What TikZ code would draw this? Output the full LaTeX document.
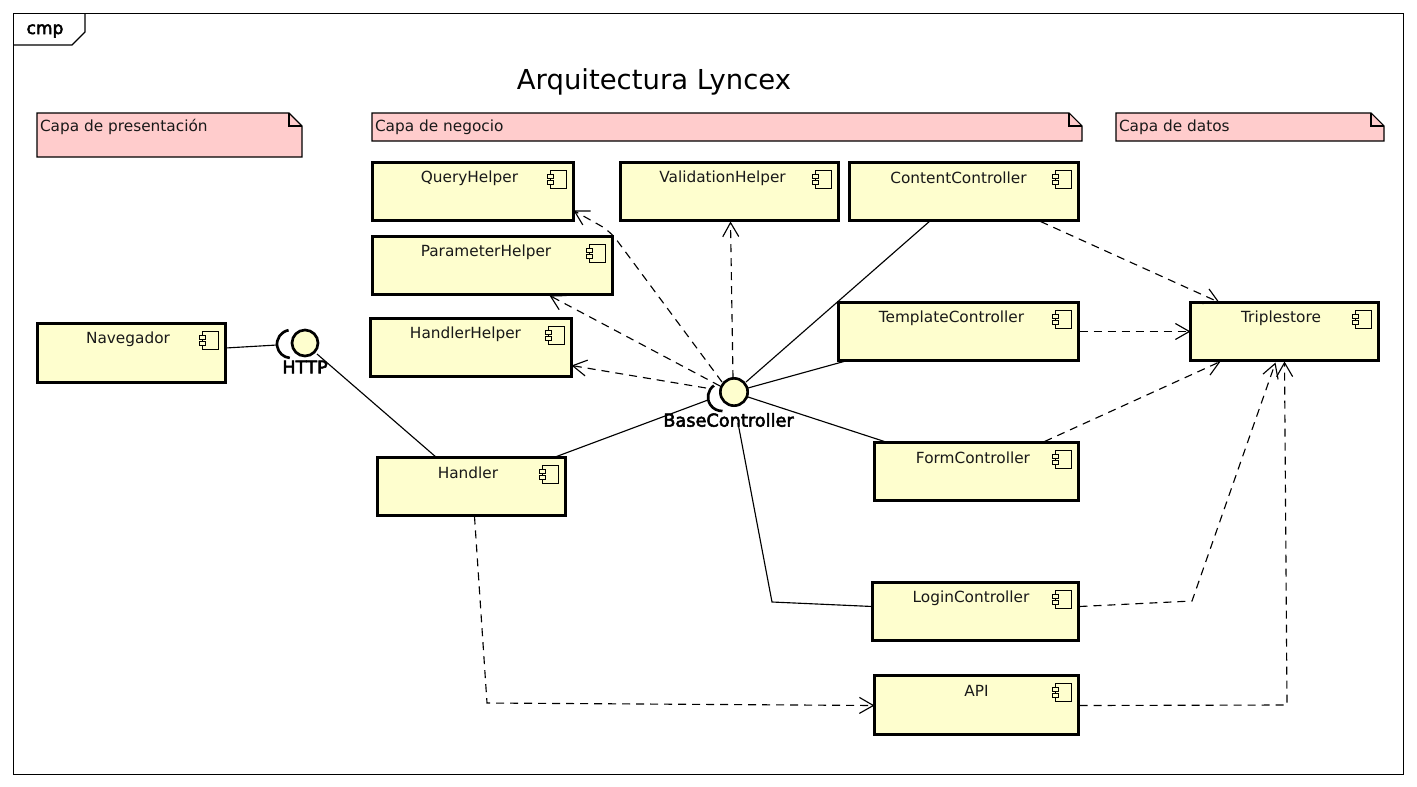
\documentclass[tikz,border=0pt]{standalone}
\usepackage{fontspec}
\setmainfont{DejaVu Sans}
\newfontfamily\boldish[FakeBold=3]{DejaVu Sans}
\usetikzlibrary{calc,arrows.meta}
\definecolor{compfill}{HTML}{FEFECE}
\definecolor{notefill}{HTML}{FFCCCC}
\tikzset{
  x=0.75pt,y=-0.75pt,
  box/.style={draw=black,fill=compfill,line width=2.25pt,rectangle,inner sep=0pt,outer sep=0pt},
  txt/.style={inner sep=0pt,outer sep=0pt,font=\fontsize{11.5pt}{13pt}\selectfont,text=black!90},
  icon/.style={draw=black,line width=0.75pt,fill=compfill},
  notebody/.style={draw=black,fill=notefill,line width=0.8pt,line join=miter},
  plain/.style={draw=black,line width=0.85pt},
  dep/.style={draw=black,line width=0.85pt,dash pattern=on 6pt off 4.5pt,-{Straight Barb[length=10.5pt,width=12pt,line width=0.85pt]}},
  iface/.style={circle,draw=black,fill=compfill,line width=2pt,inner sep=0pt,outer sep=0pt,minimum size=19.5pt},
  ifacetxt/.style={inner sep=0pt,outer sep=0pt,font=\boldish\fontsize{13.3pt}{15pt}\selectfont},
}
\newcommand{\comp}[7]{%
  \node[box,minimum width={(#4-#2)*0.75pt},minimum height={(#5-#3)*0.75pt}] (#1) at ({(#2+#4)/2+0.5},{(#3+#5)/2+0.5}) {};
  \node[txt] (#1Text) at (#7,#3+16) {#6};
  \draw[icon] ($(#1.north east)+(-23.5,7.5)$) rectangle ++(16,18);
  \draw[icon] ($(#1.north east)+(-26.5,11.5)$) rectangle ++(6,4);
  \draw[icon] ($(#1.north east)+(-26.5,17.5)$) rectangle ++(6,4);
}
\newcommand{\notebox}[6]{%
  \draw[notebody] (#2,#3) -- (#4-13,#3) -- (#4,#3+13) -- (#4,#5) -- (#2,#5) -- cycle;
  \draw[notebody,fill=none] (#4-13,#3) -- (#4-13,#3+13) -- (#4,#3+13);
  \node[txt,anchor=west] (#1) at (#2+3,#3+14) {#6};
}
\begin{document}
\begin{tikzpicture}
\useasboundingbox (0,0) rectangle (1417,786);
\fill[white] (0,0) rectangle (1417,786);
% frame
\draw[black,line width=0.8pt] (13.5,13.5) rectangle (1403.5,774.5);
\draw[black,line width=0.8pt] (13.5,45) -- (72,45) -- (85,32) -- (85,13.5);
\node[inner sep=0pt,font=\boldish\fontsize{12.8pt}{15pt}\selectfont] (frameTag) at (45,31) {cmp};
\node[inner sep=0pt,font=\fontsize{20.6pt}{24pt}\selectfont] (title) at (654,82) {Arquitectura Lyncex};
% notes
\notebox{notePres}{37}{113}{302}{157}{Capa de presentación}
\notebox{noteNeg}{372}{113}{1082}{141}{Capa de negocio}
\notebox{noteDat}{1116}{113}{1384}{141}{Capa de datos}
% components
\comp{Query}{372}{162}{573}{220}{QueryHelper}{469.5}
\comp{Validation}{620}{162}{838}{220}{ValidationHelper}{722.5}
\comp{Content}{849}{162}{1078}{220}{ContentController}{958.5}
\comp{Parameter}{372}{236}{612}{294}{ParameterHelper}{486}
\comp{HandlerH}{370}{318}{571}{376}{HandlerHelper}{465.5}
\comp{Navegador}{37}{323}{225}{382}{Navegador}{128}
\comp{Template}{838}{302}{1078}{360}{TemplateController}{951.5}
\comp{Triple}{1190}{302}{1378}{360}{Triplestore}{1281}
\comp{Form}{874}{442}{1078}{500}{FormController}{973}
\comp{Handler}{377}{457}{565}{515}{Handler}{468}
\comp{Login}{872}{582}{1078}{640}{LoginController}{971}
\comp{Api}{874}{675}{1078}{734}{API}{976.5}
% interfaces
\node[iface] (Http) at (305,343) {};
\node[iface,minimum size=20.5pt] (Base) at (734,392) {};
\coordinate (HttpSock) at (291,344);
\coordinate (BaseSock) at (722,397);
\draw[black,line width=2pt] ($(HttpSock)+(100:10.5pt)$) arc[start angle=100,end angle=265,radius=10.5pt];
\draw[black,line width=2pt] ($(BaseSock)+(125:10.5pt)$) arc[start angle=125,end angle=272,radius=10.5pt];
\node[ifacetxt] (HttpLabel) at (305,367) {HTTP};
\node[ifacetxt] (BaseLabel) at (728.5,420) {BaseController};
% solid connectors
\draw[plain] (Navegador.east |- 0,348) -- ($(HttpSock)+(-14,1)$);
\draw[plain] ($(Http.center)+(12,11)$) -- ($(Handler.north west)+(59,0)$);
\draw[plain] ($(Handler.north east)+(-9,-1)$) -- ($(BaseSock)+(-14,3)$);
\draw[plain] ($(Content.south west)+(81,0)$) -- ($(Base.center)+(12,-10)$);
\draw[plain] ($(Template.south west)+(9,0)$) -- ($(Base.center)+(14,-4)$);
\draw[plain] ($(Form.north west)+(13,0)$) -- ($(Base.center)+(14,5)$);
\draw[plain] ($(Base.center)+(4,31)$) -- (772,602) -- ($(Login.north west)+(0,24)$);
% dependencies
\draw[dep,rounded corners=8pt] ($(Base.center)+(-12,-10)$) -- (610,231) -- ($(Query.south east)+(0,-10)$);
\draw[dep] ($(Base.center)+(-14,-6)$) -- ($(Parameter.south west)+(177,1)$);
\draw[dep] ($(Base.center)+(-28,-4)$) -- ($(HandlerH.south east)+(0,-11)$);
\draw[dep] ($(Base.center)+(-1,-14)$) -- ($(Validation.south west)+(110,1)$);
\draw[dep] ($(Handler.south west)+(97,1)$) -- (487,703) -- ($(Api.north west)+(0,30)$);
\draw[dep] ($(Content.south west)+(191,1)$) -- ($(Triple.north west)+(29,0)$);
\draw[dep] ($(Template.north east)+(1,29)$) -- ($(Triple.north west)+(0,29)$);
\draw[dep] ($(Form.north west)+(170,-1)$) -- ($(Triple.south west)+(30,1)$);
\draw[dep] ($(Login.north east)+(1,24)$) -- (1192,601) -- ($(Triple.south west)+(85,2)$);
\draw[dep] ($(Api.north east)+(1,30)$) -- (1287,705) -- ($(Triple.south west)+(94,1)$);
\end{tikzpicture}
\end{document}
